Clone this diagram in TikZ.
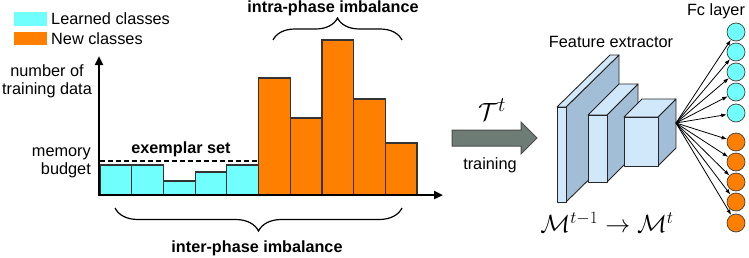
\documentclass[tikz,border=0pt]{standalone}
\usepackage{fontspec}
\setmainfont{Liberation Sans}
\usetikzlibrary{decorations.pathreplacing,arrows.meta}
\definecolor{lcyan}{RGB}{112,255,252}
\definecolor{norange}{RGB}{255,128,0}
\definecolor{bfront}{RGB}{208,232,250}
\definecolor{bside}{RGB}{162,190,215}
\definecolor{agray}{RGB}{110,124,118}
\begin{document}
\begin{tikzpicture}[x=1pt,y=-1pt,
  txt/.style={inner sep=0pt,font=\fontsize{16.3}{18}\selectfont},
  btxt/.style={inner sep=0pt,font=\fontsize{16.2}{18}\selectfont\bfseries},
  oldbar/.style={fill=lcyan,draw=black!80,line width=1.2pt},
  newbar/.style={fill=norange,draw=black!80,line width=1.2pt},
  axis/.style={line width=2.4pt,-{Triangle[length=9pt,width=8pt]}},
  bracestyle/.style={decorate,line width=1.2pt},
  face/.style={draw=black!85,line width=0.9pt,line join=round},
  neuron/.style={circle,minimum size=18pt,inner sep=0pt,draw=black!75,line width=0.7pt},
  fcarrow/.style={-{Latex[length=5.5pt,width=4pt]},line width=0.8pt}]
\useasboundingbox (0,0) rectangle (749,257);
% legend
\fill[lcyan] (14,12) rectangle (47,26);
\fill[norange] (14,32) rectangle (47,45);
\node[txt,anchor=west] (lgA) at (51,19) {Learned classes};
\node[txt,anchor=west] (lgB) at (51,39) {New classes};
% axis labels
\node[txt,align=center] (ylab) at (47,81) {number of\\training data};
\node[txt,align=right,anchor=east] (mem) at (91,163) {memory\\budget};
% bars
\draw[oldbar] (100,165) rectangle (131.7,195);
\draw[oldbar] (131.7,165) rectangle (163.4,195);
\draw[oldbar] (163.4,181) rectangle (195.1,195);
\draw[oldbar] (195.1,172) rectangle (226.8,195);
\draw[oldbar] (226.8,165) rectangle (258.5,195);
\draw[newbar] (258.5,78) rectangle (290.2,195);
\draw[newbar] (290.2,118) rectangle (321.9,195);
\draw[newbar] (321.9,40) rectangle (353.6,195);
\draw[newbar] (353.6,99) rectangle (385.3,195);
\draw[newbar] (385.3,143) rectangle (417,195);
% dashed memory line
\draw[line width=1.5pt,dash pattern=on 5pt off 3pt] (100,161) -- (258.5,161);
\node[btxt] (ex) at (181,149) {exemplar set};
% axes
\coordinate (O) at (99,195);
\coordinate (Ytop) at (99,56);
\coordinate (Xend) at (443,195);
\draw[axis] (O) -- (Ytop);
\draw[axis] ([xshift=-1.2pt]O) -- (Xend);
% braces
\draw[bracestyle,decoration={brace,amplitude=22pt,aspect=0.5}] (273,40) -- (402,40);
\node[btxt] (intra) at (333,8) {intra-phase imbalance};
\draw[bracestyle,decoration={brace,amplitude=23pt,aspect=0.5}] (402,208) -- (115,208);
\node[btxt] (inter) at (257,248) {inter-phase imbalance};
% big arrow
\draw[fill=agray,draw=black!70,line width=1pt,line join=miter]
  (452,130) -- (521,130) -- (521,122) -- (537,138) -- (521,154) -- (521,146) -- (452,146) -- cycle;
\node[inner sep=0pt] (T) at (492,110) {\fontsize{28}{30}\selectfont$\mathcal{T}^t$};
\node[txt] (tr) at (490,165) {training};
% feature extractor blocks
% block 1
\draw[face,fill=bside] (566,107) -- (619,55) -- (619,150) -- (566,202) -- cycle;
\draw[face,fill=bfront] (557,107) -- (610,55) -- (619,55) -- (566,107) -- cycle;
\draw[face,fill=bfront] (557,107) rectangle (566,202);
% block 2
\draw[face,fill=bside] (607,115) -- (638,84) -- (638,151) -- (607,182) -- cycle;
\draw[face,fill=bfront] (588,115) -- (619,84) -- (638,84) -- (607,115) -- cycle;
\draw[face,fill=bfront] (588,115) rectangle (607,182);
% block 3
\draw[face,fill=bside] (658,117) -- (676,99) -- (676,148) -- (658,166) -- cycle;
\draw[face,fill=bfront] (624,117) -- (642,99) -- (676,99) -- (658,117) -- cycle;
\draw[face,fill=bfront] (624,117) rectangle (658,166);
\node[txt] (fe) at (611,42) {Feature extractor};
\node[inner sep=0pt] (M) at (607,222) {\fontsize{23}{26}\selectfont$\mathcal{M}^{t-1}\rightarrow\mathcal{M}^{t}$};
% fc layer
\node[txt] (fc) at (716,11) {Fc layer};
\coordinate (fan) at (676,123);
\foreach \i/\y in {1/32,2/52,3/72,4/92,5/113}{
  \node[neuron,fill=lcyan] (c\i) at (736,\y) {};
}
\foreach \i/\y in {6/142,7/162,8/182,9/202,10/223}{
  \node[neuron,fill=norange] (c\i) at (736,\y) {};
}
\foreach \i in {1,...,10}{
  \draw[fcarrow] (fan) -- (c\i);
}
\end{tikzpicture}
\end{document}
